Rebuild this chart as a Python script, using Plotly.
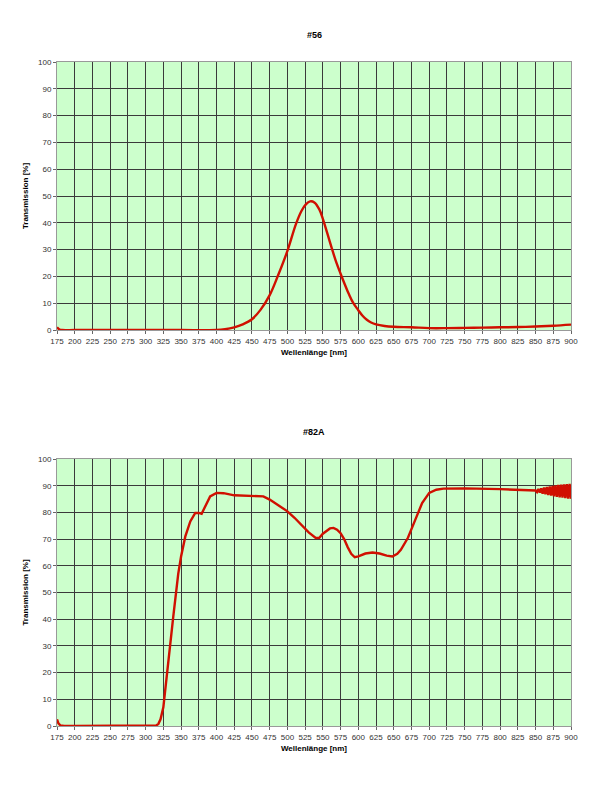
import plotly.graph_objects as go

# ---- data ----
wl_56 = [175, 178, 182, 200, 250, 300, 350, 400, 412, 425, 437, 450, 462, 475, 487, 500, 512, 520, 526, 532, 538, 545, 550, 556, 562, 568, 575, 581, 587, 593, 600, 606, 612, 618, 625, 637, 650, 675, 700, 725, 750, 775, 800, 825, 850, 875, 900]
tr_56 = [1.0, 0.3, 0.0, 0.0, 0.0, 0.0, 0.0, 0.0, 0.3, 1.0, 2.1, 4.0, 7.5, 13.0, 20.5, 29.5, 39.5, 44.5, 46.9, 48.0, 47.6, 45.0, 41.5, 36.3, 31.0, 26.0, 21.0, 17.0, 13.2, 10.0, 7.4, 5.3, 3.8, 2.8, 2.1, 1.5, 1.2, 1.0, 0.7, 0.7, 0.8, 0.9, 1.0, 1.1, 1.3, 1.6, 2.0]

wl_82a = [175, 177, 180, 185, 200, 250, 300, 310, 315, 318, 321, 325, 332, 339, 346, 350, 356, 363, 370, 375, 379, 384, 391, 400, 410, 425, 450, 466, 475, 490, 500, 510, 520, 530, 540, 545, 550, 560, 565, 570, 575, 580, 585, 590, 595, 600, 610, 620, 630, 640, 648, 655, 660, 670, 680, 690, 700, 710, 720, 750, 800, 840, 850,
          852, 854, 856, 858, 860, 862, 864, 866, 868, 870, 872, 874, 876, 878, 880, 882, 884, 886, 888, 890, 892, 894, 896, 898, 900]
tr_82a = [2.5, 1.0, 0.2, 0.0, 0.0, 0.0, 0.0, 0.0, 0.2, 0.8, 2.5, 7.0, 24.6, 41.0, 57.0, 63.5, 71.0, 76.6, 79.8, 79.8, 79.5, 82.0, 86.0, 87.3, 87.2, 86.4, 86.0, 86.0, 84.8, 82.3, 80.4, 78.0, 75.3, 72.5, 70.4, 70.5, 72.0, 74.0, 74.2, 73.5, 72.2, 70.0, 67.0, 64.5, 63.2, 63.5, 64.6, 65.0, 64.6, 63.8, 63.5, 64.5, 66.0, 70.5, 77.0, 83.5, 87.3, 88.5, 88.9, 89.0, 88.7, 88.3, 88.2,
          87.6, 88.8, 87.4, 89.0, 87.0, 89.3, 86.8, 89.5, 86.5, 89.7, 86.3, 89.9, 86.0, 90.1, 85.8, 90.3, 85.6, 90.4, 85.5, 90.5, 85.3, 90.6, 85.2, 90.7, 85.1, 87.5]

x_ticks = list(range(175, 901, 25))
y_ticks = list(range(0, 101, 10))
titles = ["#56", "#82A"]
x_title = "Wellenlänge [nm]"
y_title = "Transmission [%]"

# ---- figure ----
fig = go.Figure()
line_style = dict(color="#d01000", width=2.4)
fig.add_trace(go.Scatter(x=wl_56, y=tr_56, mode="lines", line=dict(line_style, shape="spline", smoothing=1.0),
                         xaxis="x", yaxis="y", showlegend=False))
fig.add_trace(go.Scatter(x=wl_82a, y=tr_82a, mode="lines", line=dict(line_style, shape="linear"),
                         xaxis="x2", yaxis="y2", showlegend=False))

W, H = 600, 800
x_dom = [57 / W, 571 / W]
top_dom = [1 - 330 / H, 1 - 62 / H]
bot_dom = [1 - 726 / H, 1 - 459 / H]

FONT = "Arial, Liberation Sans, sans-serif"
tick_font = dict(family=FONT, size=8, color="#333333")
title_font = dict(family=FONT, size=8, color="#000000")

def xax(anchor):
    return dict(domain=x_dom, anchor=anchor, range=[175, 900], tickvals=x_ticks,
                ticktext=[str(v) for v in x_ticks], tickfont=tick_font, automargin=False,
                showgrid=True, gridcolor="#3a3a3a", gridwidth=1,
                showline=True, linecolor="#999999", linewidth=1, mirror=True,
                ticks="outside", ticklen=3, tickcolor="#666666", zeroline=False,
                title=dict(text="<b>" + x_title + "</b>", font=title_font, standoff=4))

def yax(anchor, dom):
    return dict(domain=dom, anchor=anchor, range=[0, 100], tickvals=y_ticks, tickfont=tick_font,
                automargin=False,
                showgrid=True, gridcolor="#3a3a3a", gridwidth=1,
                showline=True, linecolor="#999999", linewidth=1, mirror=True,
                ticks="outside", ticklen=3, tickcolor="#666666", zeroline=False,
                title=dict(text="<b>" + y_title + "</b>", font=title_font, standoff=8))

fig.update_layout(
    width=W, height=H,
    margin=dict(l=0, r=0, t=0, b=0),
    paper_bgcolor="white",
    plot_bgcolor="#ccffcc",
    xaxis=xax("y"), yaxis=yax("x", top_dom),
    xaxis2=xax("y2"), yaxis2=yax("x2", bot_dom),
    annotations=[
        dict(text="<b>" + titles[0] + "</b>", x=(x_dom[0] + x_dom[1]) / 2, y=1 - 35 / H,
             xref="paper", yref="paper", yanchor="middle", showarrow=False,
             font=dict(family=FONT, size=9, color="#000")),
        dict(text="<b>" + titles[1] + "</b>", x=(x_dom[0] + x_dom[1]) / 2, y=1 - 432 / H,
             xref="paper", yref="paper", yanchor="middle", showarrow=False,
             font=dict(family=FONT, size=9, color="#000")),
    ],
)

fig.write_html("out.html")
